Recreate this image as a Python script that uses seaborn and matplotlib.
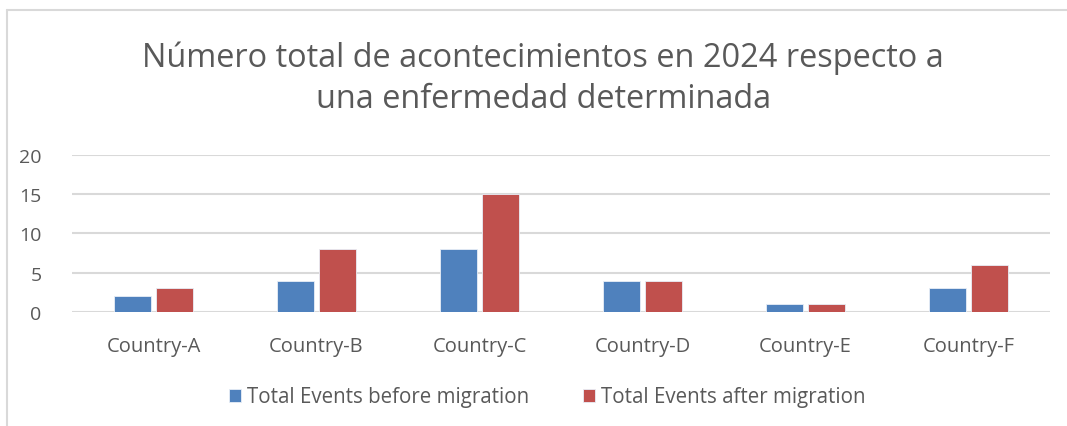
import pandas as pd
import matplotlib
matplotlib.use("Agg")
import matplotlib.pyplot as plt
import seaborn as sns
from matplotlib.lines import Line2D

countries = ["Country-A", "Country-B", "Country-C", "Country-D", "Country-E", "Country-F"]
before = [2, 4, 8, 4, 1, 3]
after = [3, 8, 15, 4, 1, 6]
series = ["Total Events before migration", "Total Events after migration"]
colors = ["#4F81BD", "#C0504D"]

df = pd.DataFrame({
    "country": countries * 2,
    "value": before + after,
    "series": [series[0]] * len(countries) + [series[1]] * len(countries),
})

sns.set_style("white")
plt.rcParams["font.family"] = ["Open Sans", "DejaVu Sans"]
text_color = "#595959"
grid_color = "#D9D9D9"

fig = plt.figure(figsize=(10.67, 4.27), dpi=100)
ax = fig.add_axes([0.0675, 0.267, 0.9165, 0.368])

sns.barplot(data=df, x="country", y="value", hue="series", palette=colors,
            saturation=1, width=0.51, gap=0.12, edgecolor="#E8EEF7", linewidth=0.6,
            ax=ax, legend=True)

ax.set_ylim(0, 20)
ax.set_yticks([0, 5, 10, 15, 20])
ax.set_xlim(-0.5, 5.5)
ax.yaxis.grid(True, color=grid_color, linewidth=1.5)
ax.set_axisbelow(True)
for s in ax.spines.values():
    s.set_visible(False)
ax.set_xlabel("")
ax.set_ylabel("")
ax.tick_params(axis="both", length=0, colors=text_color)
ax.tick_params(axis="x", labelsize=14.5, pad=17)
ax.tick_params(axis="y", labelsize=14, pad=22)

handles, labels = ax.get_legend_handles_labels()
ax.get_legend().remove()
fig.legend(handles, labels, loc="center", bbox_to_anchor=(0.513, 0.068), ncol=2,
           frameon=False, fontsize=14.8, labelcolor=text_color,
           handlelength=0.6, handleheight=0.6, handletextpad=0.3, columnspacing=2.6)

fig.text(0.509, 0.816, "Número total de acontecimientos en 2024 respecto a\nuna enfermedad determinada",
         ha="center", va="center", fontsize=23.4, color=text_color, linespacing=1.33)

# outer chart border (top and left only visible)
fig.add_artist(Line2D([0.0066, 1.0], [0.974, 0.974], color=grid_color, linewidth=1.5, transform=fig.transFigure))
fig.add_artist(Line2D([0.0066, 0.0066], [0.0, 0.974], color=grid_color, linewidth=1.5, transform=fig.transFigure))

fig.savefig("out.png", dpi=100, facecolor="white")
